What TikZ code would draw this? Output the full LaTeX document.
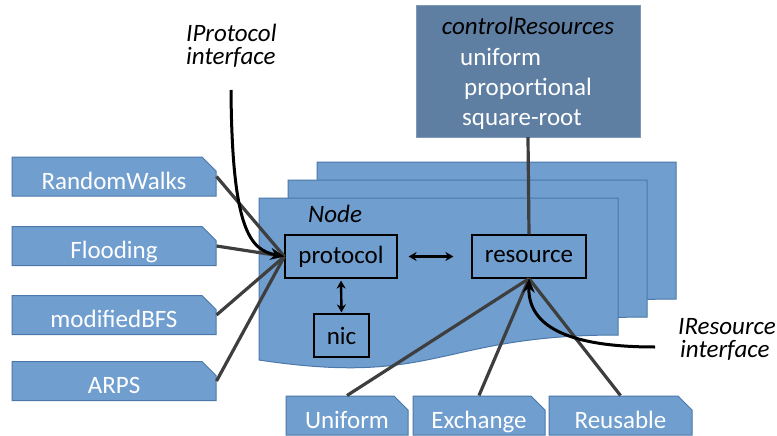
\documentclass[tikz,border=0pt]{standalone}
\usepackage{fontspec}
\setmainfont{Carlito}
\usetikzlibrary{arrows.meta,shapes.misc}

\definecolor{boxblue}{RGB}{112,158,207}
\definecolor{boxedge}{RGB}{74,120,170}
\definecolor{ctrlblue}{RGB}{94,126,162}
\definecolor{wiregray}{RGB}{62,62,62}

\begin{document}
\begin{tikzpicture}[x=1pt, y=-1pt,
    impl/.style={chamfered rectangle, chamfered rectangle corners=north east,
                 chamfered rectangle xsep=7pt, chamfered rectangle ysep=7pt,
                 draw=boxedge, fill=boxblue, text=white, line width=1pt,
                 minimum width=#1, minimum height=39pt, inner xsep=2pt, inner ysep=0pt,
                 text height=25pt, text depth=0pt, font=\fontsize{25}{28}\selectfont},
    part/.style={draw, line width=1.2pt, minimum height=43pt, inner sep=2pt,
                 font=\fontsize{25}{28}\selectfont},
    layer/.style={draw=boxedge, fill=boxblue, line width=1pt},
    wire/.style={draw=wiregray, line width=3.2pt},
    iface/.style={-{Stealth[length=14pt,width=12pt]}, line width=3pt},
    link/.style={{Stealth[length=8pt,width=9pt]}-{Stealth[length=8pt,width=9pt]}, line width=2.4pt},
    note/.style={font=\fontsize{25}{23}\selectfont\itshape, align=left, inner sep=0pt}
]
\useasboundingbox (0,0) rectangle (777,436);

% stacked node sheets
\foreach \dx/\dy in {58/-36, 29/-18, 0/0}
  \draw[layer, shift={(\dx,\dy)}] (259,198) -- (618,198) -- (618,335)
        .. controls (438,335) and (438,387) .. (259,360) -- cycle;

\node[note, anchor=base west] (nodetitle) at (308,222) {Node};
\node[part, minimum width=112pt] (proto) at (341,256.5) {protocol};
\node[part, minimum width=114pt] (res) at (529,256.5) {resource};
\node[part, minimum width=55pt] (nic) at (341.5,335.5) {nic};

\draw[link] ([xshift=11pt]proto.east) -- ([xshift=-18pt]res.west);
\draw[link] ([yshift=-2pt]proto.south) -- ([yshift=1pt]nic.north);

% control box
\node[fill=ctrlblue, draw=ctrlblue!80!white, minimum width=224pt, minimum height=132pt] (ctrl) at (528,71) {};
\node[note, anchor=base] (ctrltitle) at (528,35) {controlResources};
\node[anchor=base west, align=left, inner sep=0pt, text=white,
      font=\fontsize{25}{30}\selectfont] (ctrllist) at (460,125) {uniform\\\hspace{4pt}proportional\\\hspace{2pt}square-root};
\draw[wire] (ctrl.south) -- (res.north);

% protocol implementations
\node[impl=204pt] (walks) at (114,176.5) {RandomWalks};
\node[impl=204pt] (flood) at (114,246) {Flooding};
\node[impl=204pt] (bfs) at (114,315) {modifiedBFS};
\node[impl=204pt] (arps) at (114,381) {ARPS};
\foreach \src in {walks,flood,bfs,arps}
  \draw[wire] (\src.east) -- (proto.west);

% resource implementations
\node[impl=122pt] (unif) at (347,415.5) {Uniform};
\node[impl=132pt] (exch) at (479,415.5) {Exchange};
\node[impl=143pt] (reuse) at (620.5,415.5) {Reusable};
\foreach \src in {unif,exch,reuse}
  \draw[wire] (\src.north) -- (res.south);

% interfaces
\node[note, anchor=base west] (iproto) at (186,65) {IProtocol\\interface};
\coordinate (protoIn) at (231,90);
\draw[iface] (protoIn) .. controls (232,230) and (250,250) .. (proto.west);

\node[note, anchor=base west] (ires) at (678,357) {IResource\\\hspace{2pt}interface};
\coordinate (resIn) at (655,347);
\draw[iface] (resIn) .. controls (565,347) and (528,325) .. (res.south);
\end{tikzpicture}
\end{document}
